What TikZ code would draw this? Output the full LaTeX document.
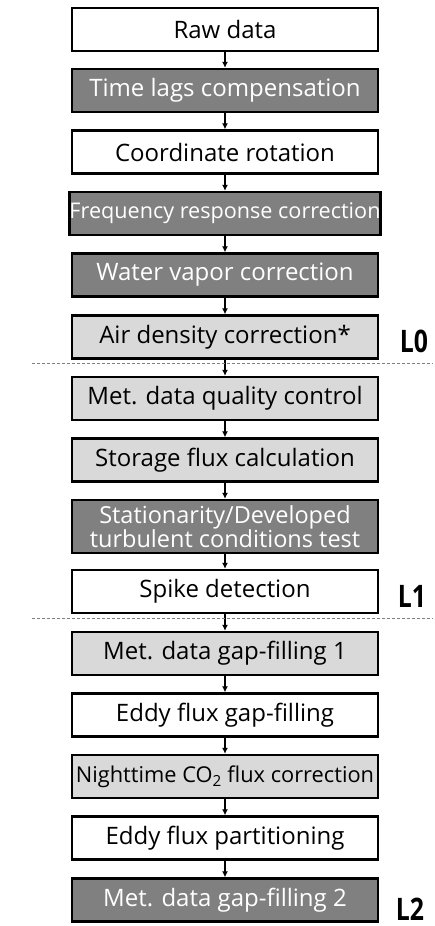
\documentclass[tikz,border=0pt]{standalone}
\usepackage{fontspec}
\setmainfont{Open Sans}
\usetikzlibrary{arrows.meta}
\definecolor{darkbox}{HTML}{808080}
\definecolor{lightbox}{HTML}{D9D9D9}
\tikzset{
  stepbox/.style={draw, line width=2.4pt, minimum width=306pt, minimum height=43pt,
    inner sep=0pt, align=center, font=\fontsize{24}{24}\selectfont},
  darkstep/.style={stepbox, fill=darkbox, text=white},
  lightstep/.style={stepbox, fill=lightbox},
  whitestep/.style={stepbox, fill=white},
  flow/.style={-{Latex[length=6pt,width=6pt]}, line width=1.4pt},
  level/.style={anchor=base, inner sep=0pt, font=\fontsize{31}{31}\selectfont\bfseries},
  cut/.style={dashed, gray, line width=0.8pt, dash pattern=on 3pt off 2pt}
}
\newcommand{\lvl}[1]{\scalebox{0.8}[1]{#1}}
\begin{document}
\begin{tikzpicture}[x=1pt,y=-1pt]
\useasboundingbox (0,0) rectangle (435,926);
\node[whitestep] (raw) at (225,29.5){Raw data};
\node[darkstep] (lag) at (225,90.5){Time lags compensation};
\node[whitestep] (rot) at (225,152){Coordinate rotation};
\node[darkstep, font=\fontsize{21.6}{22}\selectfont] (freq) at (225,213.5){Frequency response correction};
\node[darkstep] (vap) at (225,275){Water vapor correction};
\node[lightstep] (dens) at (225,337){Air density correction*};
\node[lightstep] (metqc) at (225,398.5){Met. data quality control};
\node[lightstep] (stor) at (225,460){Storage flux calculation};
\node[darkstep, minimum height=53pt, font=\fontsize{23.5}{24}\selectfont] (stat) at (225,526.5){Stationarity/Developed\\turbulent conditions test};
\node[whitestep] (spike) at (225,591.5){Spike detection};
\node[lightstep] (metgf) at (225,653.5){Met. data gap-filling 1};
\node[whitestep] (eddygf) at (225,715){Eddy flux gap-filling};
\node[lightstep, font=\fontsize{21.8}{22}\selectfont] (night) at (225,776.5){Nighttime CO\textsubscript{2} flux correction};
\node[whitestep] (part) at (225,838){Eddy flux partitioning};
\node[darkstep] (metgfb) at (225,900){Met. data gap-filling 2};
\foreach \a/\b in {raw/lag, lag/rot, rot/freq, freq/vap, vap/dens, dens/metqc,
  metqc/stor, stor/stat, stat/spike, spike/metgf, metgf/eddygf, eddygf/night,
  night/part, part/metgfb}
  \draw[flow] (\a) -- (\b);
% level boundaries
\draw[cut] (32,363) -- (433,363);
\draw[cut] (32,618) -- (433,618);
\node[level] (lzero) at (414,352){\lvl{L0}};
\node[level] (lone) at (412,607){\lvl{L1}};
\node[level] (ltwo) at (410,920){\lvl{L2}};
\end{tikzpicture}
\end{document}
